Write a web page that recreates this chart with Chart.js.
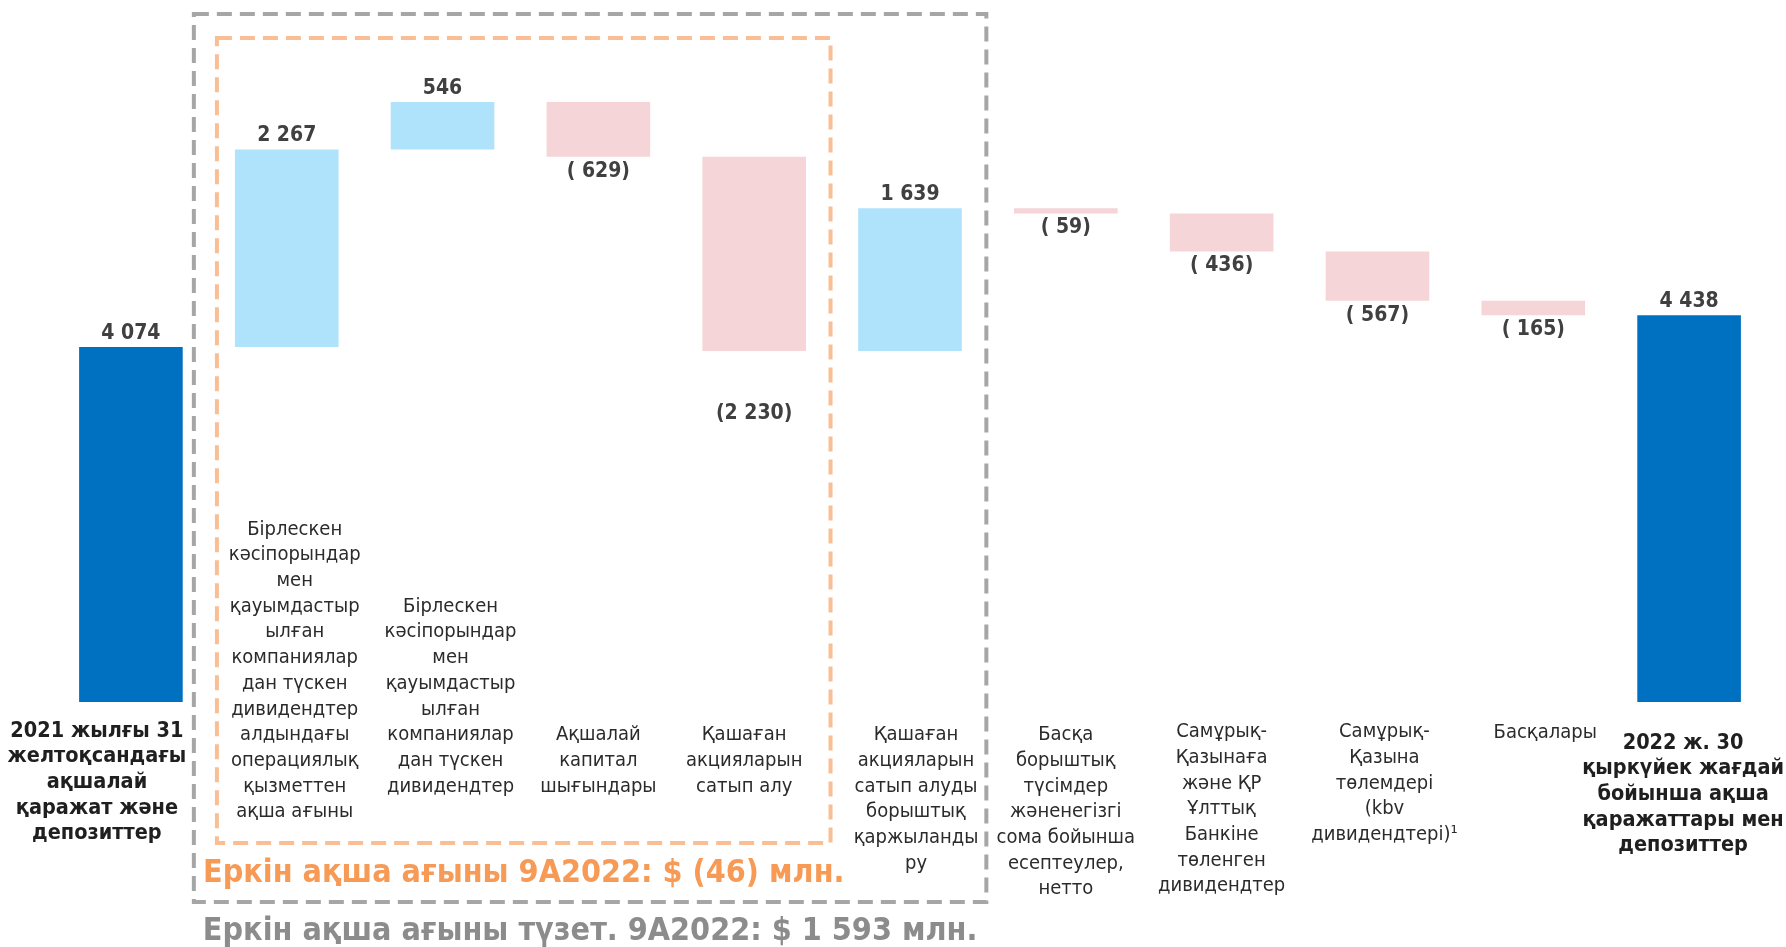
<!DOCTYPE html>
<html>
<head>
<meta charset="utf-8">
<script src="https://cdn.jsdelivr.net/npm/chart.js@4"></script>
<style>
  body { margin: 0; background: #fff; }
  #wrap { width: 1786px; height: 947px; position: relative; }
</style>
</head>
<body>
<div id="wrap"><canvas id="waterfall"></canvas></div>
<script>
// ===== Data =====
const categories = [
  ["2021 жылғы 31", "желтоқсандағы", "ақшалай", "қаражат және", "депозиттер"],
  ["Бірлескен", "кәсіпорындар", "мен", "қауымдастыр", "ылған", "компаниялар", "дан түскен", "дивидендтер", "алдындағы", "операциялық", "қызметтен", "ақша ағыны"],
  ["Бірлескен", "кәсіпорындар", "мен", "қауымдастыр", "ылған", "компаниялар", "дан түскен", "дивидендтер"],
  ["Ақшалай", "капитал", "шығындары"],
  ["Қашаған", "акцияларын", "сатып алу"],
  ["Қашаған", "акцияларын", "сатып алуды", "борыштық", "қаржыланды", "ру"],
  ["Басқа", "борыштық", "түсімдер", "жәненегізгі", "сома бойынша", "есептеулер,", "нетто"],
  ["Самұрық-", "Қазынаға", "және ҚР", "Ұлттық", "Банкіне", "төленген", "дивидендтер"],
  ["Самұрық-", "Қазына", "төлемдері", "(kbv", "дивидендтері)¹"],
  ["Басқалары"],
  ["2022 ж. 30", "қыркүйек жағдай", "бойынша ақша", "қаражаттары мен", "депозиттер"]
];
const values = [4074, 2267, 546, -629, -2230, 1639, -59, -436, -567, -165, 4438];
const isTotal = [true, false, false, false, false, false, false, false, false, false, true];

const freeCashFlow = "Еркін ақша ағыны 9А2022: $ (46) млн.";
const adjFreeCashFlow = "Еркін ақша ағыны түзет. 9А2022: $ 1 593 млн.";

// ===== Colors / fonts =====
const DARK_BLUE = "#0070C0";
const LIGHT_BLUE = "#AEE3FB";
const PINK = "#F5D5D7";
const FONT = "'DejaVu Sans Condensed', 'DejaVu Sans', sans-serif";

// floating bars [start, end] from running total
let running = 0;
const floating = values.map((v, i) => {
  if (isTotal[i]) { running = v; return [0, v]; }
  const start = running;
  running += v;
  return [start, running];
});
const barColors = values.map((v, i) => isTotal[i] ? DARK_BLUE : (v >= 0 ? LIGHT_BLUE : PINK));

function fmt(v) {
  const a = Math.abs(v).toString().replace(/\B(?=(\d{3})+(?!\d))/g, " ");
  if (v >= 0) return a;
  return Math.abs(v) < 1000 ? "( " + a + ")" : "(" + a + ")";
}

// value labels on the bars
const valueLabels = {
  id: "valueLabels",
  afterDatasetsDraw(chart, args, opts) {
    const ctx = chart.ctx;
    const meta = chart.getDatasetMeta(0);
    ctx.save();
    ctx.font = "bold 21px " + FONT;
    ctx.fillStyle = "#404040";
    ctx.textAlign = "center";
    meta.data.forEach((bar, i) => {
      const v = values[i];
      const top = Math.min(bar.y, bar.base);
      const bottom = Math.max(bar.y, bar.base);
      const extra = opts.extraDrop[i] || 0;
      if (v >= 0) {
        ctx.textBaseline = "bottom";
        ctx.fillText(fmt(v), bar.x, top - 3);
      } else {
        ctx.textBaseline = "top";
        ctx.fillText(fmt(v), bar.x, bottom + 4 + extra);
      }
    });
    ctx.restore();
  }
};

// category labels under the bars (some are lifted up into the free space)
const categoryLabels = {
  id: "categoryLabels",
  afterDraw(chart, args, opts) {
    const ctx = chart.ctx;
    const x = chart.scales.x;
    ctx.save();
    ctx.textAlign = "center";
    ctx.textBaseline = "middle";
    categories.forEach((lines, i) => {
      const cx = x.getPixelForValue(i) + (opts.shiftX[i] || 0);
      const bold = isTotal[i];
      ctx.font = (bold ? "bold 21.5px " : "20px ") + FONT;
      ctx.fillStyle = bold ? "#1F1F1F" : "#2B2B2B";
      const lift = opts.lift[i] || 0;
      const y0 = opts.firstLine + (opts.shiftY[i] || 0);
      lines.forEach((line, k) => {
        ctx.fillText(line, cx, y0 + (k - lift) * opts.lineHeight);
      });
    });
    ctx.restore();
  }
};

// dashed frames + free cash flow captions
const frames = {
  id: "frames",
  afterDraw(chart) {
    const ctx = chart.ctx;
    const x = chart.scales.x;
    ctx.save();
    ctx.lineWidth = 4;
    ctx.setLineDash([15, 8]);

    const gL = x.getPixelForValue(0.404), gR = x.getPixelForValue(5.49);
    ctx.strokeStyle = "#A6A6A6";
    ctx.strokeRect(gL, 14, gR - gL, 888);

    const oL = x.getPixelForValue(0.552), oR = x.getPixelForValue(4.49);
    ctx.strokeStyle = "#F9BE93";
    ctx.strokeRect(oL, 38, oR - oL, 805);

    ctx.setLineDash([]);
    ctx.textAlign = "center";
    ctx.textBaseline = "middle";
    ctx.font = "bold 32px " + FONT;
    ctx.fillStyle = "#F79A55";
    ctx.fillText(freeCashFlow, (oL + oR) / 2, 874);
    ctx.fillStyle = "#8C8C8C";
    ctx.fillText(adjFreeCashFlow, (gL + gR) / 2, 932);
    ctx.restore();
  }
};

new Chart(document.getElementById("waterfall"), {
  type: "bar",
  data: {
    labels: categories.map(c => c.join(" ")),
    datasets: [{
      data: floating,
      backgroundColor: barColors,
      borderWidth: 0,
      barPercentage: 0.665,
      categoryPercentage: 1
    }]
  },
  options: {
    responsive: true,
    maintainAspectRatio: false,
    animation: false,
    layout: { padding: { left: 53, right: 19, top: 5, bottom: 245 } },
    plugins: {
      legend: { display: false },
      tooltip: { enabled: false },
      valueLabels: { extraDrop: [0, 0, 0, 0, 48, 0, 0, 0, 0, 0, 0] },
      categoryLabels: {
        firstLine: 735,
        lineHeight: 25.7,
        lift: [0, 8, 5, 0, 0, 0, 0, 0, 0, 0, 0],
        shiftX: [-34, 8, 8, 0, -10, 6, 0, 0, 7, 12, -6],
        shiftY: [-4, 0, 0, 0, 0, 0, 0, -3, -3, -2, 8]
      }
    },
    scales: {
      x: { display: false },
      y: { display: false, min: 0, max: 8000 }
    }
  },
  plugins: [valueLabels, categoryLabels, frames]
});
</script>
</body>
</html>
